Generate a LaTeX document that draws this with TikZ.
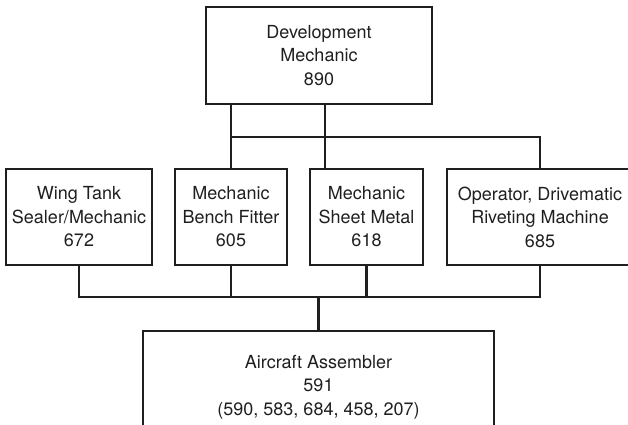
\documentclass[tikz,border=0pt]{standalone}
\usepackage{fontspec}
\setmainfont{TeX Gyre Heros}
\begin{document}
\begin{tikzpicture}[x=1pt,y=-1pt,
  box/.style={draw=black!88, line width=2.2pt, inner sep=0pt, align=center,
    text=black!88, font=\fontsize{18}{23.5}\selectfont},
  link/.style={draw=black!88, line width=2.2pt}]
\useasboundingbox (0,0) rectangle (628,424);
\clip (0,0) rectangle (628,424);
\node[box, minimum width=226pt, minimum height=97pt] (top) at (319,55.5) {Development\\Mechanic\\890};
\node[box, minimum width=146pt, minimum height=96pt] (b1) at (79,217) {Wing Tank\\Sealer/Mechanic\\672};
\node[box, minimum width=112pt, minimum height=96pt] (b2) at (231,217) {Mechanic\\Bench Fitter\\605};
\node[box, minimum width=113pt, minimum height=96pt] (b3) at (366.5,217) {Mechanic\\Sheet Metal\\618};
\node[box, minimum width=186pt, minimum height=96pt] (b4) at (540,217) {Operator, Drivematic\\Riveting Machine\\685};
\node[box, minimum width=351pt, minimum height=112pt] (bot) at (318.5,387) {Aircraft Assembler\\591\\(590, 583, 684, 458, 207)};
\coordinate (t3) at (325,0);
\coordinate (bus) at (0,137);
\coordinate (lbus) at (0,297);
\draw[link] (top.south -| b2.north) -- (b2.north);
\draw[link] (top.south -| t3) -- (b3.north -| t3);
\draw[link] (b2.north |- bus) -- (b4.north |- bus) -- (b4.north);
\draw[link] (b1.south) -- (b1.south |- lbus) -- (b4.south |- lbus) -- (b4.south);
\draw[link] (b2.south) -- (b2.south |- lbus);
\draw[link] (b3.south) -- (b3.south |- lbus);
\draw[link] (bot.north) -- (bot.north |- lbus);
\end{tikzpicture}
\end{document}
